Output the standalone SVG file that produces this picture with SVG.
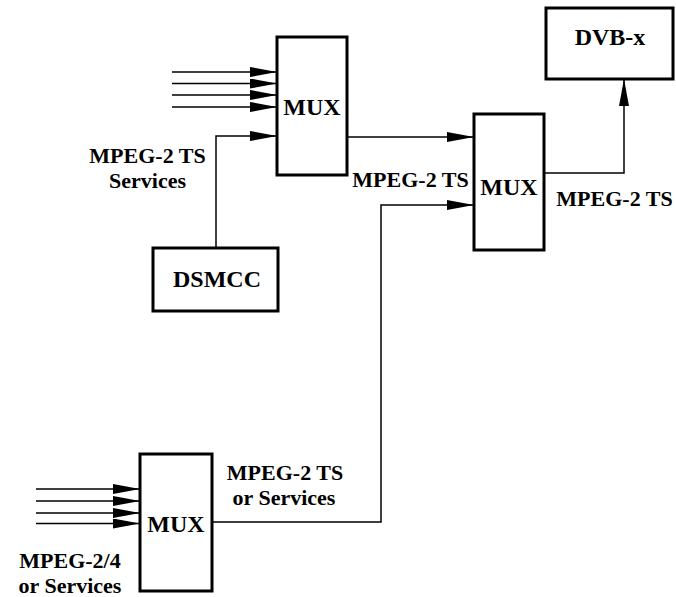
<svg xmlns="http://www.w3.org/2000/svg" width="676" height="597" viewBox="0 0 676 597">
<style>
.box{fill:#fff;stroke:#000;stroke-width:3}
.ln{fill:none;stroke:#000;stroke-width:1.5}
.t{font-family:'Liberation Serif','Times New Roman',Times,serif;font-weight:700;font-size:22px;fill:#000;text-anchor:middle}
.b{font-size:24px}
</style>
<defs>
<marker id="ah" markerUnits="userSpaceOnUse" markerWidth="27" markerHeight="10" refX="27" refY="5" orient="auto" viewBox="0 0 27 10">
<path d="M0,0 L27,5 L0,10 z" fill="#000"/>
</marker>
</defs>
<rect width="676" height="597" fill="#fff"/>
<g id="connectors">
<path class="ln" d="M172,72 H277" marker-end="url(#ah)"/>
<path class="ln" d="M172,83.5 H277" marker-end="url(#ah)"/>
<path class="ln" d="M172,95 H277" marker-end="url(#ah)"/>
<path class="ln" d="M172,107 H277" marker-end="url(#ah)"/>
<path class="ln" d="M216,248 V136 H277" marker-end="url(#ah)"/>
<path class="ln" d="M347,137 H474" marker-end="url(#ah)"/>
<path class="ln" d="M212,522 H381 V205 H474" marker-end="url(#ah)"/>
<path class="ln" d="M544,173 H624 V79" marker-end="url(#ah)"/>
<path class="ln" d="M36,489 H140" marker-end="url(#ah)"/>
<path class="ln" d="M36,501 H140" marker-end="url(#ah)"/>
<path class="ln" d="M36,513 H140" marker-end="url(#ah)"/>
<path class="ln" d="M36,523.5 H140" marker-end="url(#ah)"/>
</g>
<g id="mux1">
<rect class="box" x="277" y="37" width="70" height="138"/>
<text class="t b" x="312" y="115">MUX</text>
</g>
<g id="mux2">
<rect class="box" x="474" y="114" width="70" height="136"/>
<text class="t b" x="509" y="195">MUX</text>
</g>
<g id="mux3">
<rect class="box" x="140" y="454" width="72" height="137"/>
<text class="t b" x="176" y="532">MUX</text>
</g>
<g id="dvbx">
<rect class="box" x="546" y="8" width="127" height="71"/>
<text class="t b" x="610" y="45">DVB-x</text>
</g>
<g id="dsmcc">
<rect class="box" x="153" y="248" width="125" height="63"/>
<text class="t b" x="217" y="287">DSMCC</text>
</g>
<g id="labels">
<text class="t" x="147.5" y="163">MPEG-2 TS</text>
<text class="t" x="147.5" y="188">Services</text>
<text class="t" x="410.5" y="187">MPEG-2 TS</text>
<text class="t" x="614.5" y="206">MPEG-2 TS</text>
<text class="t" x="285" y="480">MPEG-2 TS</text>
<text class="t" x="284" y="505">or Services</text>
<text class="t" x="70" y="568">MPEG-2/4</text>
<text class="t" x="70" y="593">or Services</text>
</g>
</svg>
